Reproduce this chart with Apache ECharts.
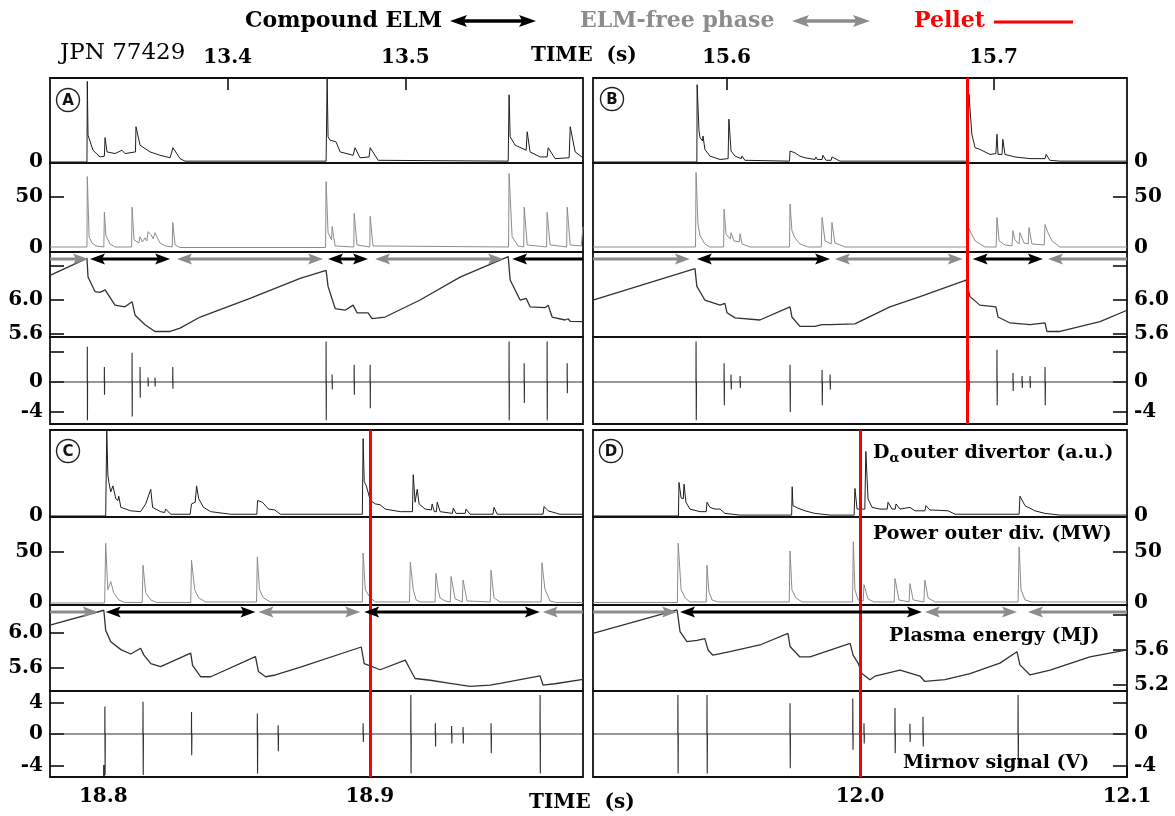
<!DOCTYPE html>
<html>
<head>
<meta charset="utf-8">
<title>JPN 77429 compound ELMs</title>
<script src="https://cdn.jsdelivr.net/npm/echarts@6.0.0/dist/echarts.min.js"></script>
<style>
  html, body { margin: 0; padding: 0; background: #fff; }
  #chart { width: 1175px; height: 816px; }
</style>
</head>
<body>
<div id="chart"></div>
<script>
// ---- time ranges and tick labels of the four panels ----
var rangeA = [13.3, 13.6], ticksA = [13.4, 13.5];
var rangeB = [15.55, 15.75], ticksB = [15.6, 15.7];
var rangeC = [18.78, 18.98], ticksC = [18.8, 18.9];
var rangeD = [11.9, 12.1], ticksD = [12.0, 12.1];

// y tick values / labels
var powerTicks = [50], powerLabels = [0, 50];
var energyTicksTop = [5.6, 6.0, 6.4], energyLabelsTop = [5.6, 6.0];
var energyTicksC = [5.6, 6.0], energyLabelsC = [5.6, 6.0];
var energyTicksD = [5.2, 5.6, 6.0], energyLabelsD = [5.2, 5.6];
var mirnovTicks = [-4, 0, 4], mirnovLabelsAB = [-4, 0], mirnovLabelsC = [-4, 0, 4], mirnovLabelsD = [-4, 0];

// pellet times
var pelletB = 15.6904, pelletC = 18.8972, pelletD = 12.0011;

// ELM phases [start, end] (s)
var compoundA = [[13.3225, 13.3676], [13.4565, 13.4790], [13.5601, 13.6]];
var freeA = [[13.3, 13.3214], [13.3715, 13.4537], [13.4830, 13.5550]];
var compoundB = [[15.5889, 15.6388], [15.6922, 15.7185]];
var freeB = [[15.55, 15.5863], [15.6406, 15.6885], [15.7204, 15.75]];
var compoundC = [[18.8009, 18.8571], [18.8979, 18.9638]];
var freeC = [[18.78, 18.7979], [18.8582, 18.8964], [18.9649, 18.98]];
var compoundD = [[11.9326, 12.0232]];
var freeD = [[11.9, 11.9315], [12.0243, 12.0588], [12.0629, 12.1]];

// ---- D-alpha outer divertor (a.u.) ----
var daA = [[13.3,0],[13.3208,0],[13.3210,0.96],[13.3214,0.32],[13.3242,0.14],[13.3281,0.06],[13.3306,0.07],[13.3310,0.29],
  [13.3321,0.12],[13.3366,0.1],[13.3405,0.14],[13.3422,0.1],[13.3481,0.12],[13.3484,0.42],[13.3507,0.2],[13.3563,0.12],
  [13.3619,0.08],[13.3676,0.05],[13.3692,0.17],[13.3732,0.04],[13.3760,0.01],[13.4554,0.01],[13.4560,1.0],[13.4565,0.3],
  [13.4576,0.26],[13.4610,0.24],[13.4633,0.12],[13.4706,0.08],[13.4717,0.17],[13.4745,0.05],[13.4796,0.06],[13.4802,0.17],
  [13.4847,0.02],[13.5579,0.01],[13.5584,0.8],[13.5590,0.3],[13.5618,0.2],[13.5680,0.14],[13.5686,0.36],[13.5702,0.12],
  [13.5759,0.06],[13.5798,0.06],[13.5804,0.17],[13.5843,0.04],[13.5922,0.05],[13.5928,0.42],[13.5956,0.12],[13.6,0.05]];
var daB = [[15.55,0],[15.5889,0],[15.5890,0.92],[15.5897,0.37],[15.5901,0.29],[15.5910,0.25],[15.5912,0.31],[15.5919,0.15],
  [15.5938,0.07],[15.5957,0.05],[15.5976,0.03],[15.6006,0.04],[15.6009,0.51],[15.6017,0.13],[15.6032,0.07],[15.6055,0.04],
  [15.6058,0.07],[15.6069,0.02],[15.6236,0.01],[15.6238,0.13],[15.6256,0.11],[15.6275,0.07],[15.6294,0.05],[15.6331,0.03],
  [15.6335,0.06],[15.6340,0.03],[15.6358,0.03],[15.6361,0.08],[15.6373,0.02],[15.6392,0.02],[15.6395,0.06],[15.6425,0.01],
  [15.6904,0.01],[15.6908,0.81],[15.6919,0.33],[15.6931,0.17],[15.6949,0.15],[15.6987,0.09],[15.7009,0.1],[15.7013,0.33],
  [15.7017,0.09],[15.7032,0.09],[15.7035,0.27],[15.7043,0.09],[15.7080,0.06],[15.7137,0.04],[15.7193,0.04],[15.7197,0.09],
  [15.7211,0.02],[15.7249,0.01],[15.75,0.01]];
var daC = [[18.78,0],[18.8009,0],[18.8013,1.0],[18.8017,0.48],[18.8021,0.39],[18.8028,0.28],[18.8036,0.35],[18.8047,0.2],
  [18.8055,0.18],[18.8058,0.23],[18.8066,0.1],[18.8103,0.06],[18.8140,0.05],[18.8159,0.14],[18.8178,0.31],[18.8185,0.1],
  [18.8215,0.05],[18.8230,0.04],[18.8234,0.08],[18.8253,0.02],[18.8326,0.02],[18.8331,0.14],[18.8345,0.16],[18.8350,0.35],
  [18.8358,0.2],[18.8376,0.1],[18.8403,0.05],[18.8478,0.02],[18.8576,0.02],[18.8579,0.18],[18.8597,0.16],[18.8620,0.08],
  [18.8643,0.07],[18.8646,0.09],[18.8665,0.02],[18.8972,0.02],[18.8975,0.9],[18.8979,0.4],[18.8987,0.35],[18.9002,0.18],
  [18.9021,0.14],[18.9039,0.13],[18.9058,0.08],[18.9114,0.05],[18.9160,0.05],[18.9163,0.48],[18.9170,0.16],[18.9175,0.16],
  [18.9178,0.31],[18.9185,0.14],[18.9208,0.08],[18.9231,0.07],[18.9234,0.14],[18.9242,0.05],[18.9250,0.05],[18.9253,0.16],
  [18.9264,0.05],[18.9310,0.03],[18.9313,0.09],[18.9324,0.03],[18.9358,0.03],[18.9361,0.08],[18.9376,0.02],[18.9462,0.02],
  [18.9466,0.1],[18.9478,0.02],[18.9650,0.02],[18.9654,0.11],[18.9669,0.06],[18.9713,0.02],[18.98,0.02]];
var daD = [[11.9,0],[11.9320,0],[11.9322,0.39],[11.9330,0.21],[11.9338,0.2],[11.9341,0.37],[11.9348,0.16],[11.9363,0.08],
  [11.9401,0.05],[11.9424,0.05],[11.9427,0.16],[11.9438,0.1],[11.9457,0.08],[11.9476,0.08],[11.9494,0.03],[11.9551,0.01],
  [11.9744,0.01],[11.9746,0.34],[11.9749,0.12],[11.9768,0.09],[11.9794,0.06],[11.9831,0.03],[11.9888,0.01],[11.9978,0.01],
  [11.9981,0.32],[11.9989,0.08],[12.0018,0.08],[12.0022,0.75],[12.0030,0.2],[12.0045,0.1],[12.0075,0.08],[12.0102,0.08],
  [12.0105,0.16],[12.0120,0.08],[12.0132,0.08],[12.0135,0.14],[12.0150,0.08],[12.0187,0.1],[12.0206,0.06],[12.0243,0.06],
  [12.0247,0.12],[12.0262,0.07],[12.0330,0.06],[12.0356,0.02],[12.0596,0.02],[12.0599,0.23],[12.0618,0.12],[12.0655,0.06],
  [12.0693,0.03],[12.0749,0.01],[12.1,0.01]];

// ---- power to outer divertor (MW) ----
var powA = [[13.3,1],[13.3208,1],[13.3210,70],[13.3220,11],[13.3236,5],[13.3259,2],[13.3303,1],[13.3306,35],[13.3315,12],
  [13.3338,4],[13.3366,1],[13.3459,1],[13.3462,40],[13.3473,8],[13.3500,5],[13.3507,11],[13.3520,6],[13.3535,10],[13.3545,7],
  [13.3552,16],[13.3569,13],[13.3580,9],[13.3591,15],[13.3619,5],[13.3650,2],[13.3688,1],[13.3691,25],[13.3704,3],[13.3732,0.5],
  [13.4551,0.5],[13.4554,65],[13.4565,15],[13.4585,8],[13.4588,21],[13.4605,2],[13.4710,1],[13.4712,34],[13.4728,3],[13.4800,1],
  [13.4802,31],[13.4818,2],[13.5581,1],[13.5584,73],[13.5601,11],[13.5635,2],[13.5666,1],[13.5669,40],[13.5686,3],[13.5795,1],
  [13.5798,35],[13.5815,3],[13.5908,1],[13.5911,40],[13.5928,3],[13.5990,2],[13.6,21]];
var powB = [[15.55,1],[15.5884,1],[15.5886,74],[15.5893,23.5],[15.5901,12],[15.5919,4],[15.5938,1],[15.5989,1],[15.5991,38],
  [15.5998,14],[15.6006,11],[15.6015,9],[15.6017,15],[15.6028,7],[15.6048,6],[15.6051,14],[15.6058,4],[15.6088,1],[15.6236,1],
  [15.6238,43],[15.6245,17],[15.6256,10],[15.6275,4],[15.6305,1],[15.6355,1],[15.6358,30],[15.6369,7],[15.6392,4],[15.6395,25],
  [15.6406,5],[15.6444,1],[15.6903,1],[15.6908,19],[15.6931,7],[15.6968,1],[15.7010,1],[15.7013,30],[15.7021,7],[15.7043,3],
  [15.7069,2],[15.7073,17],[15.7080,8],[15.7096,4],[15.7099,15],[15.7114,5],[15.7130,4],[15.7133,20],[15.7144,4],[15.7190,3],
  [15.7193,23],[15.7204,15],[15.7219,7],[15.7249,1],[15.75,1]];
var powC = [[18.78,0],[18.8005,0],[18.8009,58.5],[18.8017,13],[18.8024,14],[18.8028,21],[18.8039,10],[18.8058,3],[18.8080,0.5],
  [18.8146,0.5],[18.8149,37],[18.8159,10],[18.8178,3],[18.8200,0.5],[18.8328,0.5],[18.8331,42],[18.8343,13],[18.8358,5],
  [18.8384,1],[18.8575,1],[18.8578,45],[18.8586,13],[18.8601,5],[18.8627,1],[18.8972,1],[18.8975,49],[18.8983,13],[18.9002,5],
  [18.9021,1],[18.9149,1],[18.9152,40],[18.9163,13],[18.9174,3],[18.9189,1],[18.9245,1],[18.9248,29],[18.9257,12],[18.9264,5],
  [18.9268,6],[18.9283,2],[18.9302,1],[18.9305,26],[18.9320,4],[18.9347,1],[18.9350,22.5],[18.9365,2],[18.9452,1],[18.9455,32],
  [18.9466,5],[18.9489,1],[18.9643,1],[18.9646,39.5],[18.9657,14],[18.9676,2],[18.9698,0.5],[18.98,0.5]];
var powD = [[11.9,0.5],[11.9316,0.5],[11.9319,58.5],[11.9330,13],[11.9345,5],[11.9363,1],[11.9424,1],[11.9427,37],[11.9434,11],
  [11.9446,3],[11.9468,1],[11.9735,1],[11.9738,51],[11.9745,13],[11.9760,5],[11.9783,1],[11.9972,1],[11.9975,60],[11.9981,13],
  [11.9993,3],[12.0012,2],[12.0015,18],[12.0030,4],[12.0052,1],[12.0128,1],[12.0131,24],[12.0146,3],[12.0184,1],[12.0187,19],
  [12.0199,3],[12.0239,1],[12.0243,22.5],[12.0255,5],[12.0281,1],[12.0592,1],[12.0596,55],[12.0603,13],[12.0618,3],[12.0644,1],
  [12.1,1]];

// ---- plasma energy (MJ) ----
var wA = [[13.3,6.29],[13.3208,6.49],[13.3214,6.27],[13.3253,6.10],[13.3281,6.09],[13.3310,6.12],[13.3366,5.94],[13.3422,5.92],
  [13.3462,5.98],[13.3479,5.82],[13.3535,5.71],[13.3591,5.63],[13.3676,5.63],[13.3732,5.67],[13.3845,5.80],[13.4126,6.02],
  [13.4408,6.255],[13.4554,6.35],[13.4565,6.16],[13.4605,5.90],[13.4661,5.88],[13.4706,5.94],[13.4728,5.85],[13.4790,5.85],
  [13.4813,5.78],[13.4886,5.80],[13.5083,6.0],[13.5308,6.27],[13.5579,6.51],[13.5590,6.235],[13.5646,6.0],[13.5680,6.02],
  [13.5702,5.92],[13.5787,5.91],[13.5804,5.94],[13.5826,5.80],[13.5899,5.765],[13.5916,5.78],[13.5928,5.75],[13.6,5.745]];
var wB = [[15.55,6.0],[15.5882,6.37],[15.5889,6.16],[15.5919,6.0],[15.5976,5.94],[15.5994,5.96],[15.6002,5.85],[15.6032,5.79],
  [15.6125,5.765],[15.6238,5.92],[15.6245,5.80],[15.6275,5.69],[15.6331,5.69],[15.6358,5.71],[15.6388,5.71],[15.6481,5.72],
  [15.6612,5.92],[15.6725,6.04],[15.6897,6.235],[15.6912,6.04],[15.6949,5.94],[15.7009,5.92],[15.7017,5.80],[15.7062,5.73],
  [15.7137,5.71],[15.7193,5.73],[15.7200,5.63],[15.7249,5.63],[15.7399,5.745],[15.75,5.88]];
var wC = [[18.78,6.09],[18.8002,6.26],[18.8009,6.03],[18.8028,5.90],[18.8066,5.81],[18.8103,5.76],[18.8140,5.825],[18.8152,5.75],
  [18.8178,5.65],[18.8215,5.615],[18.8328,5.77],[18.8335,5.63],[18.8365,5.50],[18.8403,5.50],[18.8571,5.73],[18.8582,5.56],
  [18.8609,5.50],[18.8646,5.52],[18.8740,5.61],[18.8968,5.84],[18.8979,5.65],[18.9039,5.58],[18.9133,5.69],[18.9152,5.58],
  [18.9170,5.48],[18.9227,5.46],[18.9301,5.425],[18.9376,5.39],[18.9451,5.405],[18.9489,5.425],[18.9639,5.51],[18.9650,5.405],
  [18.9695,5.42],[18.98,5.47]];
var wD = [[11.9,5.79],[11.9315,6.057],[11.9326,5.81],[11.9352,5.695],[11.9390,5.71],[11.9419,5.73],[11.9431,5.60],[11.9449,5.54],
  [11.9513,5.58],[11.9625,5.657],[11.9730,5.79],[11.9738,5.64],[11.9775,5.52],[11.9813,5.52],[11.9963,5.676],[11.9974,5.54],
  [11.9993,5.45],[12.0007,5.33],[12.0037,5.26],[12.0056,5.30],[12.0150,5.37],[12.0225,5.30],[12.0243,5.24],[12.0318,5.26],
  [12.0412,5.33],[12.0524,5.45],[12.0588,5.58],[12.0599,5.43],[12.0637,5.314],[12.0712,5.37],[12.0861,5.52],[12.1,5.60]];

// ---- Mirnov signal (V): spikes as [time, peak up, peak down] ----
var mirA = [[13.3210,4.7,-5.1],[13.3306,2.0,-1.7],[13.3462,3.9,-4.6],[13.3507,2.0,-2.1],[13.3552,0.6,-0.6],[13.3591,0.6,-0.6],
  [13.3691,2.0,-0.9],[13.4554,5.4,-5.1],[13.4588,1.0,-1.0],[13.4712,2.3,-1.7],[13.4802,2.3,-3.5],[13.5584,5.4,-5.1],
  [13.5669,2.5,-2.8],[13.5798,5.4,-5.1],[13.5911,2.5,-1.5]];
var mirB = [[15.5886,5.4,-5.1],[15.5991,2.5,-3.1],[15.6017,1.0,-1.0],[15.6051,0.8,-0.8],[15.6238,2.3,-4.0],[15.6358,1.6,-3.1],
  [15.6388,1.0,-1.0],[15.6908,1.6,-1.3],[15.7013,4.3,-3.1],[15.7073,1.2,-1.2],[15.7107,0.8,-0.8],[15.7137,0.8,-0.8],
  [15.7193,2.0,-3.1]];
var mirC = [[18.8006,3.5,-5.2],[18.8149,4.1,-5.2],[18.8331,2.8,-2.7],[18.8578,2.6,-5.0],[18.8656,1.1,-2.2],[18.8975,1.35,-1.0],
  [18.9154,4.95,-5.0],[18.9246,1.35,-1.6],[18.9307,1.0,-1.2],[18.9350,0.9,-1.2],[18.9455,1.35,-2.45],[18.9639,4.95,-5.0]];
var mirD = [[11.9318,4.95,-5.0],[11.9427,4.95,-5.0],[11.9738,3.9,-4.36],[11.9973,4.5,-2.0],[12.0015,1.35,-1.2],
  [12.0131,3.3,-2.45],[12.0187,1.3,-1.0],[12.0236,2.2,-1.6],[12.0592,4.95,-4.36]];

// ---------------------------------------------------------------
var SERIF = '"DejaVu Serif", "Liberation Serif", serif';
var GRAY = '#8c8c8c';

var topRows = [[78, 85], [163, 89], [252, 85], [337, 87]];
var botRows = [[430, 87], [517, 88], [605, 86], [691, 86]];
var yTop = [[-0.012, 1.0], [-3.9, 83.3], [5.565, 6.565], [-5.6, 6.0]];
var yC = [[-0.012, 1.0], [-1.96, 84.3], [5.337, 6.32], [-5.46, 5.46]];
var yD = [[-0.012, 1.0], [-1.96, 84.3], [5.131, 6.114], [-5.46, 5.46]];

var panels = [
  { range: rangeA, ticks: ticksA, left: 50, width: 533, rows: topRows, y: yTop, side: 'left', bottom: false,
    sig: [daA, powA, wA, mirA], comp: compoundA, free: freeA, pellet: null,
    eTicks: energyTicksTop, eLabels: energyLabelsTop, mLabels: mirnovLabelsAB },
  { range: rangeB, ticks: ticksB, left: 593, width: 534, rows: topRows, y: yTop, side: 'right', bottom: false,
    sig: [daB, powB, wB, mirB], comp: compoundB, free: freeB, pellet: pelletB,
    eTicks: energyTicksTop, eLabels: energyLabelsTop, mLabels: mirnovLabelsAB },
  { range: rangeC, ticks: ticksC, left: 50, width: 533, rows: botRows, y: yC, side: 'left', bottom: true,
    sig: [daC, powC, wC, mirC], comp: compoundC, free: freeC, pellet: pelletC,
    eTicks: energyTicksC, eLabels: energyLabelsC, mLabels: mirnovLabelsC },
  { range: rangeD, ticks: ticksD, left: 593, width: 534, rows: botRows, y: yD, side: 'right', bottom: true,
    sig: [daD, powD, wD, mirD], comp: compoundD, free: freeD, pellet: pelletD,
    eTicks: energyTicksD, eLabels: energyLabelsD, mLabels: mirnovLabelsD }
];

function mirnovLine(spikes, range) {
  var pts = [[range[0], 0]];
  spikes.forEach(function (s) {
    pts.push([s[0] - 0.00004, 0], [s[0], s[1]], [s[0] + 0.00008, s[2]], [s[0] + 0.00016, 0]);
  });
  pts.push([range[1], 0]);
  return pts;
}

function arrowEls(x1, x2, y, color, headL, headR, lw, hl, hw) {
  var els = [];
  var a = headL ? x1 + hl * 0.7 : x1, b = headR ? x2 - hl * 0.7 : x2;
  els.push({ type: 'line', shape: { x1: a, y1: y, x2: b, y2: y }, style: { stroke: color, lineWidth: lw } });
  if (headL) els.push({ type: 'polygon', shape: { points: [[x1, y], [x1 + hl, y - hw], [x1 + hl * 0.8, y], [x1 + hl, y + hw]] }, style: { fill: color } });
  if (headR) els.push({ type: 'polygon', shape: { points: [[x2, y], [x2 - hl, y - hw], [x2 - hl * 0.8, y], [x2 - hl, y + hw]] }, style: { fill: color } });
  return els;
}

function renderPhase(params, api) {
  var cs = params.coordSys;
  var x1 = api.coord([api.value(0), api.value(3)])[0];
  var x2 = api.coord([api.value(1), api.value(3)])[0];
  var compound = api.value(2) === 1;
  var y = cs.y + 7;
  var headL = x1 > cs.x + 2, headR = x2 < cs.x + cs.width - 2;
  return { type: 'group', children: arrowEls(x1, x2, y, compound ? '#000' : GRAY, headL, headR, 3, 15, 5.5) };
}

var labelFont = { color: '#000', fontFamily: SERIF, fontWeight: 'bold', fontSize: 20 };

var grids = [], xAxes = [], yAxes = [], series = [];
var sigColors = ['#1e1e1e', '#8c8c8c', '#33332e', '#2e2e2e'];
var sigWidths = [1, 1, 1.3, 1.1];

panels.forEach(function (p, pi) {
  for (var r = 0; r < 4; r++) {
    var gi = pi * 4 + r;
    grids.push({ left: p.left, top: p.rows[r][0], width: p.width, height: p.rows[r][1], show: true,
      borderColor: '#111', borderWidth: 1.8, backgroundColor: 'transparent', containLabel: false, outerBoundsMode: 'none' });

    var showX = (!p.bottom && r === 0) || (p.bottom && r === 3);
    xAxes.push({
      type: 'value', gridIndex: gi, min: p.range[0], max: p.range[1], position: (!p.bottom && r === 0) ? 'top' : 'bottom',
      axisLine: { show: false, onZero: false }, splitLine: { show: false },
      axisTick: { show: showX, inside: true, length: 12, customValues: p.ticks, lineStyle: { color: '#000', width: 1.5 } },
      axisLabel: Object.assign({ show: showX, customValues: p.ticks, margin: 10, formatter: function (v) { return v.toFixed(1); } }, labelFont)
    });

    var ticks, labels, digits = 0;
    if (r === 0) { ticks = []; labels = [0]; }
    else if (r === 1) { ticks = powerTicks; labels = powerLabels; }
    else if (r === 2) { ticks = p.eTicks; labels = p.eLabels; digits = 1; }
    else { ticks = mirnovTicks; labels = p.mLabels; }
    yAxes.push({
      type: 'value', gridIndex: gi, position: p.side, min: p.y[r][0], max: p.y[r][1],
      axisLine: { show: false, onZero: false }, splitLine: { show: false },
      axisTick: { show: ticks.length > 0, inside: true, length: 14, customValues: ticks, lineStyle: { color: '#000', width: 1.5 } },
      axisLabel: Object.assign({ show: true, customValues: labels, margin: 7,
        formatter: (function (d) { return function (v) { return v.toFixed(d); }; })(digits) }, labelFont)
    });

    var data = r === 3 ? mirnovLine(p.sig[3], p.range) : p.sig[r];
    var s = {
      type: 'line', xAxisIndex: gi, yAxisIndex: gi, data: data, showSymbol: false, symbol: 'none', silent: true,
      clip: true, z: 2, lineStyle: { color: sigColors[r], width: sigWidths[r] }, itemStyle: { color: sigColors[r] }
    };
    if (p.pellet !== null) {
      s.markLine = { silent: true, symbol: ['none', 'none'], label: { show: false }, animation: false,
        lineStyle: { color: '#ff0000', width: 3, type: 'solid' }, data: [{ xAxis: p.pellet }] };
    }
    series.push(s);

    if (r === 2) {
      var yMin = p.y[r][0];
      series.push({
        type: 'custom', xAxisIndex: gi, yAxisIndex: gi, clip: false, silent: true, z: 5,
        renderItem: renderPhase, encode: { x: [0, 1], y: 3 },
        data: p.free.map(function (d) { return [d[0], d[1], 0, yMin]; })
          .concat(p.comp.map(function (d) { return [d[0], d[1], 1, yMin]; }))
      });
    }
  }
});

// ---- annotations ----
var measureCtx = document.createElement('canvas').getContext('2d');
function textW(txt, font) { measureCtx.font = font; return measureCtx.measureText(txt).width; }
function txt(x, y, text, font, fill, align) {
  return { type: 'text', x: x, y: y, z: 20, silent: true,
    style: { text: text, font: font, fill: fill || '#000', textAlign: align || 'left', textVerticalAlign: 'middle' } };
}
var headFont = 'bold 22px ' + SERIF;
var tickFont = 'bold 20px ' + SERIF;
var noteFont = 'bold 19px ' + SERIF;

var graphics = [];
graphics.push(txt(245, 21, 'Compound ELM', headFont, '#000'));
arrowEls(450, 536, 21, '#000', true, true, 3.5, 17, 6).forEach(function (e) { e.z = 20; graphics.push(e); });
graphics.push(txt(580, 21, 'ELM-free phase', headFont, GRAY));
arrowEls(792, 870, 21, GRAY, true, true, 3.5, 17, 6).forEach(function (e) { e.z = 20; graphics.push(e); });
graphics.push(txt(914, 21, 'Pellet', headFont, '#ff0000'));
graphics.push({ type: 'line', z: 20, shape: { x1: 994, y1: 22, x2: 1073, y2: 22 }, style: { stroke: '#ff0000', lineWidth: 3 } });

graphics.push(txt(60, 53, 'JPN 77429', '23px ' + SERIF, '#000'));
graphics.push(txt(531, 56, 'TIME  (s)', tickFont, '#000'));
graphics.push(txt(529, 803, 'TIME  (s)', tickFont, '#000'));

[['A', 68, 100], ['B', 612, 99], ['C', 68, 451], ['D', 611, 451]].forEach(function (c) {
  graphics.push({ type: 'circle', z: 20, silent: true, shape: { cx: c[1], cy: c[2], r: 11.5 },
    style: { fill: '#fff', stroke: '#222', lineWidth: 1.4 } });
  graphics.push(txt(c[1], c[2] + 1, c[0], 'bold 15px "DejaVu Sans", sans-serif', '#111', 'center'));
});

var dW = textW('D', noteFont);
var aW = textW('\u03b1', 'bold 13px ' + SERIF);
graphics.push(txt(873, 453, 'D', noteFont));
graphics.push(txt(873 + dW, 459, '\u03b1', 'bold 13px ' + SERIF));
graphics.push(txt(873 + dW + aW + 1, 453, 'outer divertor (a.u.)', noteFont));
graphics.push(txt(873, 534, 'Power outer div. (MW)', noteFont));
graphics.push(txt(889, 636, 'Plasma energy (MJ)', noteFont));
graphics.push(txt(903, 763, 'Mirnov signal (V)', noteFont));

var chart = echarts.init(document.getElementById('chart'));
chart.setOption({
  animation: false,
  backgroundColor: '#fff',
  grid: grids,
  xAxis: xAxes,
  yAxis: yAxes,
  series: series,
  graphic: { elements: graphics }
});
</script>
</body>
</html>
